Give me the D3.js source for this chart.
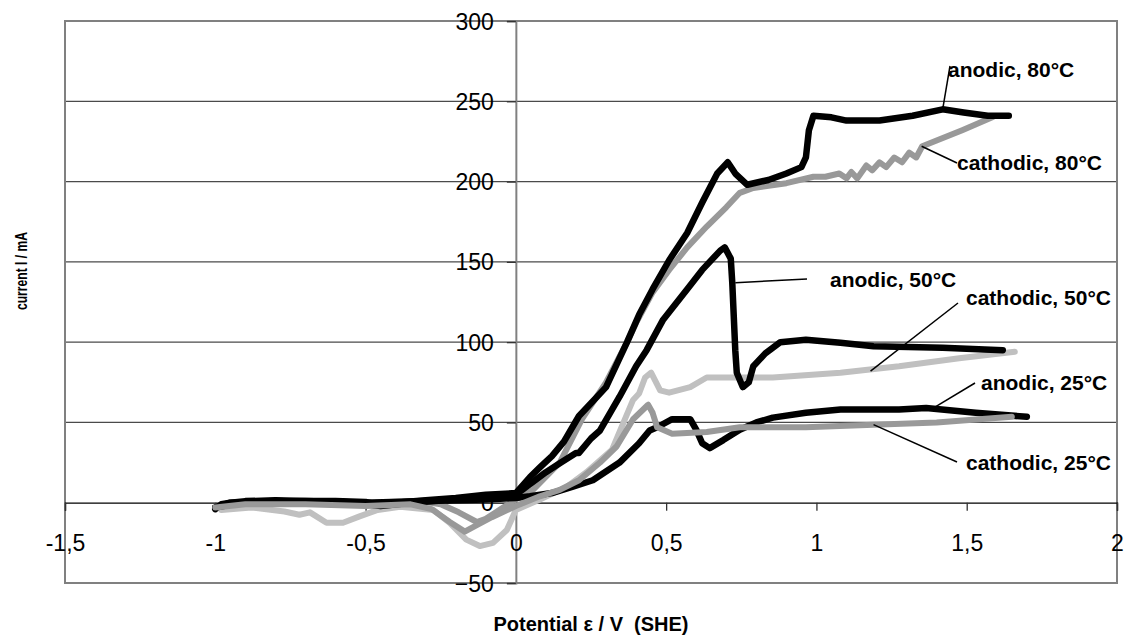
<!DOCTYPE html>
<html lang="en">
<head>
  <meta charset="UTF-8">
  <title>Polarisation curves</title>
  <style>
    body { margin: 0; background: #fff; font-family: "Liberation Sans", Arial, sans-serif; }
    .grid line { stroke: #4a4a4a; stroke-width: 1.2px; }
    .tick-label { font-size: 23px; fill: #000; }
    .note { font-size: 21px; font-weight: bold; fill: #000; }
    .leader { stroke: #000; stroke-width: 1.5px; }
    .curve { fill: none; stroke-linejoin: round; stroke-linecap: round; }
  </style>
</head>
<body>
  <svg id="chart" width="1129" height="638"></svg>
  <script src="https://d3js.org/d3.v7.min.js"></script>
  <script>
    // axis ticks
    const xTicks = [-1.5, -1, -0.5, 0, 0.5, 1, 1.5, 2];
    const yTicks = [-50, 0, 50, 100, 150, 200, 250, 300];

    // [potential V, current mA]
    const anodic80 = [[-1.0,-4],[-0.98,-1],[-0.95,0],[-0.9,1],[-0.8,1.5],[-0.7,1],[-0.6,1],[-0.5,0.5],[-0.45,-1.5],[-0.4,0],[-0.3,1.5],[-0.2,3],[-0.1,5],[0,6],[0.047,16],[0.08,22],[0.12,29],[0.16,38],[0.21,54],[0.25,62],[0.30,72],[0.34,88],[0.37,100],[0.41,117],[0.455,133],[0.51,151],[0.57,168],[0.62,187],[0.67,205],[0.705,212],[0.73,205],[0.77,198],[0.84,201],[0.90,205],[0.95,209],[0.965,215],[0.975,232],[0.99,241],[1.05,240],[1.10,238],[1.21,238],[1.32,241],[1.42,245],[1.49,243],[1.57,241],[1.64,241]];
    const cathodic80 = [[1.585,240],[1.485,232],[1.352,222],[1.332,215],[1.309,218],[1.285,212],[1.259,215],[1.232,209],[1.21,212],[1.186,207],[1.166,210],[1.136,202],[1.116,206],[1.10,202],[1.076,205],[1.03,203],[0.99,203],[0.90,199],[0.79,196],[0.745,193],[0.70,184],[0.635,172],[0.57,159],[0.51,145],[0.455,131],[0.40,112],[0.37,100],[0.30,75],[0.22,52],[0.146,25],[0.057,8],[0,2],[-0.05,-4],[-0.1,-10],[-0.13,-12],[-0.19,-6],[-0.25,-1],[-0.32,1],[-0.5,0],[-0.7,0],[-0.9,-1],[-1.0,-3]];
    const anodic50 = [[-1.0,-3],[-0.95,0],[-0.8,1],[-0.6,0],[-0.5,-1],[-0.45,-2],[-0.35,0],[-0.2,2],[-0.1,3],[0,5],[0.05,12],[0.1,19],[0.15,25],[0.2,31],[0.21,31],[0.25,40],[0.28,45],[0.345,66],[0.40,85],[0.435,95],[0.49,114],[0.57,133],[0.62,145],[0.68,157],[0.695,159],[0.715,152],[0.72,137],[0.725,116],[0.73,95],[0.735,81],[0.755,72],[0.775,75],[0.79,85],[0.83,93],[0.88,100],[0.965,101.5],[1.08,99.6],[1.19,97.5],[1.42,96.5],[1.62,95]];
    const cathodic50 = [[1.66,94],[1.475,90],[1.275,85],[1.08,81],[0.855,78],[0.635,78],[0.58,72],[0.51,68.5],[0.48,70],[0.45,81],[0.43,78],[0.41,68],[0.39,64],[0.32,33],[0.235,19],[0.17,10],[0.08,2],[0,-4.5],[-0.03,-17],[-0.076,-25],[-0.12,-27],[-0.165,-23],[-0.22,-12.5],[-0.275,-4.5],[-0.385,-2.5],[-0.46,-4.5],[-0.52,-8.5],[-0.575,-12.5],[-0.63,-12.5],[-0.685,-6],[-0.72,-7.5],[-0.77,-5.5],[-0.88,-3],[-0.98,-4.5]];
    const anodic25 = [[-1.0,-3],[-0.9,0.5],[-0.7,1],[-0.5,0],[-0.3,1],[-0.1,2],[0,3],[0.047,4],[0.12,6],[0.19,10],[0.256,14],[0.345,25],[0.41,37],[0.445,45],[0.47,47],[0.52,52],[0.58,52],[0.60,45.5],[0.62,37],[0.645,34],[0.69,39],[0.745,45.5],[0.80,50],[0.855,53],[0.965,56],[1.08,58],[1.275,58],[1.365,59],[1.53,56],[1.70,53.5]];
    const cathodic25 = [[1.65,53.5],[1.4,50],[1.19,48.6],[0.965,47],[0.745,47],[0.635,44],[0.52,43],[0.47,47],[0.455,56],[0.44,61],[0.39,52],[0.335,35],[0.28,25],[0.21,14],[0.146,8],[0.08,4],[0,-2],[-0.08,-9],[-0.13,-14],[-0.17,-18],[-0.22,-12],[-0.28,-4],[-0.35,-1],[-0.5,-2],[-0.7,-1],[-0.9,-1],[-1.0,-3]];

    // label text, anchor of the text, point on the curve the leader goes to
    const notes = [
      { text: "anodic, 80°C",   tx: 948, ty: 77,  from: [950, 66],  to: [1.42, 245] },
      { text: "cathodic, 80°C", tx: 957, ty: 170, from: [957, 163], to: [1.35, 222] },
      { text: "anodic, 50°C",   tx: 830, ty: 287, from: [807, 279], to: [0.73, 137] },
      { text: "cathodic, 50°C", tx: 966, ty: 305, from: [958, 303], to: [1.18, 82] },
      { text: "anodic, 25°C",   tx: 981, ty: 390, from: [975, 383], to: [1.39, 59] },
      { text: "cathodic, 25°C", tx: 966, ty: 470, from: [957, 462], to: [1.19, 48.6] }
    ];

    const svg = d3.select("#chart");
    const plotL = 65, plotR = 1117, plotT = 21, plotB = 583;

    const x = d3.scaleLinear().domain([-1.5, 2]).range([plotL, plotR]);
    const y = d3.scaleLinear().domain([-50, 300]).range([plotB, plotT]);

    // horizontal gridlines
    svg.append("g").attr("class", "grid")
      .selectAll("line")
      .data(yTicks.filter(d => d !== 0 && d !== -50 && d !== 300))
      .join("line")
      .attr("x1", plotL).attr("x2", plotR)
      .attr("y1", d => y(d)).attr("y2", d => y(d));

    // plot frame
    svg.append("rect")
      .attr("x", plotL).attr("y", plotT)
      .attr("width", plotR - plotL).attr("height", plotB - plotT)
      .attr("fill", "none").attr("stroke", "#808080").attr("stroke-width", 2);

    // y axis sits at x = 0
    const yAxis = svg.append("g")
      .attr("transform", `translate(${x(0)},0)`)
      .call(d3.axisLeft(y).tickValues(yTicks).tickSize(9).tickFormat(d3.format("d")));
    yAxis.select(".domain").attr("stroke", "#808080").attr("stroke-width", 2);
    yAxis.selectAll(".tick line").attr("stroke", "#333").attr("stroke-width", 1.3);
    yAxis.selectAll(".tick text")
      .attr("class", "tick-label")
      .attr("x", -22)
      .attr("dy", "0.35em")
      .style("font-family", "'Liberation Sans', Arial, sans-serif");

    // x axis sits at y = 0
    const xAxis = svg.append("g")
      .attr("transform", `translate(0,${y(0)})`)
      .call(d3.axisBottom(x).tickValues(xTicks).tickSize(8)
        .tickFormat(d => String(d).replace(".", ",")));
    xAxis.select(".domain").attr("stroke", "#000").attr("stroke-width", 1.3);
    xAxis.selectAll(".tick line").attr("stroke", "#333").attr("stroke-width", 1.3);
    xAxis.selectAll(".tick text")
      .attr("class", "tick-label")
      .attr("y", 48)
      .attr("dy", 0)
      .style("font-family", "'Liberation Sans', Arial, sans-serif");

    // curves
    const line = d3.line().x(d => x(d[0])).y(d => y(d[1]));
    const series = [
      { data: cathodic80, color: "#999999", w: 6 },
      { data: anodic80,   color: "#000000", w: 6.5 },
      { data: cathodic50, color: "#c0c0c0", w: 6 },
      { data: anodic50,   color: "#000000", w: 6.5 },
      { data: anodic25,   color: "#000000", w: 6.5 },
      { data: cathodic25, color: "#999999", w: 6 }
    ];
    svg.append("g").selectAll("path")
      .data(series)
      .join("path")
      .attr("class", "curve")
      .attr("d", d => line(d.data))
      .attr("stroke", d => d.color)
      .attr("stroke-width", d => d.w);

    // leader lines and labels
    svg.append("g").selectAll("line")
      .data(notes)
      .join("line")
      .attr("class", "leader")
      .attr("x1", d => d.from[0]).attr("y1", d => d.from[1])
      .attr("x2", d => x(d.to[0])).attr("y2", d => y(d.to[1]));

    svg.append("g").selectAll("text")
      .data(notes)
      .join("text")
      .attr("class", "note")
      .attr("x", d => d.tx).attr("y", d => d.ty)
      .text(d => d.text);

    // axis titles
    svg.append("text")
      .attr("x", 591).attr("y", 631)
      .attr("text-anchor", "middle")
      .style("font-size", "20px").style("font-weight", "bold")
      .style("white-space", "pre")
      .text("Potential ε / V  (SHE)");

    svg.append("text")
      .attr("transform", "translate(27,271) rotate(-90)")
      .attr("text-anchor", "middle")
      .attr("textLength", 78)
      .attr("lengthAdjust", "spacingAndGlyphs")
      .style("font-size", "16px").style("font-weight", "bold")
      .text("current I / mA");
  </script>
</body>
</html>
